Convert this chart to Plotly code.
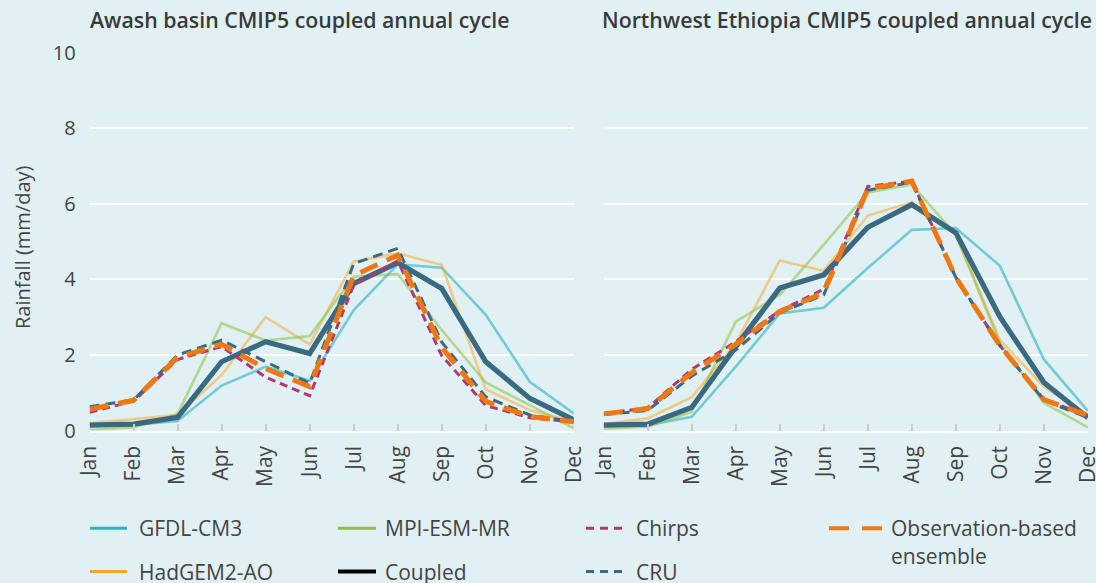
import plotly.graph_objects as go

months = ["Jan", "Feb", "Mar", "Apr", "May", "Jun", "Jul", "Aug", "Sep", "Oct", "Nov", "Dec"]

# Awash basin
awash_gfdl = [0.15, 0.15, 0.25, 1.19, 1.69, 1.32, 3.19, 4.40, 4.31, 3.06, 1.29, 0.45]
awash_hadgem = [0.20, 0.30, 0.41, 1.47, 3.00, 2.28, 4.47, 4.69, 4.38, 1.09, 0.54, 0.23]
awash_mpi = [0.02, 0.08, 0.44, 2.84, 2.38, 2.50, 4.07, 4.14, 2.66, 1.27, 0.67, 0.06]
awash_coupled = [0.14, 0.17, 0.35, 1.82, 2.35, 2.04, 3.89, 4.44, 3.76, 1.82, 0.85, 0.28]
awash_chirps = [0.48, 0.78, 1.88, 2.22, 1.41, 0.92, 3.85, 4.49, 1.98, 0.66, 0.34, 0.23]
awash_cru = [0.63, 0.81, 2.00, 2.39, 1.82, 1.25, 4.42, 4.82, 2.34, 0.89, 0.41, 0.23]
awash_obs = [0.56, 0.80, 1.94, 2.28, 1.64, 1.16, 4.10, 4.64, 2.20, 0.77, 0.37, 0.23]

# Northwest Ethiopia
nw_gfdl = [0.12, 0.14, 0.36, 1.69, 3.10, 3.25, 4.30, 5.31, 5.36, 4.36, 1.88, 0.52]
nw_hadgem = [0.17, 0.32, 0.88, 2.31, 4.50, 4.23, 5.69, 6.04, 5.18, 2.40, 1.16, 0.41]
nw_mpi = [0.05, 0.10, 0.49, 2.88, 3.59, 4.92, 6.30, 6.51, 5.18, 2.31, 0.73, 0.08]
nw_coupled = [0.14, 0.17, 0.61, 2.22, 3.77, 4.12, 5.38, 5.98, 5.23, 3.01, 1.27, 0.34]
nw_chirps = [0.45, 0.60, 1.62, 2.35, 3.17, 3.74, 6.46, 6.60, 4.05, 2.25, 0.82, 0.40]
nw_cru = [0.42, 0.53, 1.44, 2.13, 3.12, 3.59, 6.36, 6.57, 4.05, 2.25, 0.80, 0.34]
nw_obs = [0.44, 0.58, 1.53, 2.28, 3.15, 3.65, 6.40, 6.60, 4.05, 2.25, 0.82, 0.40]

titles = ["Awash basin CMIP5 coupled annual cycle", "Northwest Ethiopia CMIP5 coupled annual cycle"]
y_ticks = [0, 2, 4, 6, 8, 10]
y_title = "Rainfall (mm/day)"

W, H = 1096, 583
BG = "#e1f0f3"
TXT = "#444444"
FONT = "Open Sans"

styles = {
    "GFDL-CM3": dict(color="#2ab3c4", width=2.6, dash="solid", opacity=0.6),
    "HadGEM2-AO": dict(color="#f6a623", width=2.6, dash="solid", opacity=0.5),
    "MPI-ESM-MR": dict(color="#8dc03f", width=2.6, dash="solid", opacity=0.55),
    "Coupled": dict(color="#3a6a82", width=5.2, dash="solid", opacity=1),
    "Chirps": dict(color="#b3386f", width=3, dash="8px,5px", opacity=1),
    "CRU": dict(color="#3a6a85", width=3, dash="10px,6px", opacity=1),
    "Observation-based ensemble": dict(color="#f07814", width=5, dash="19px,10px", opacity=1),
}

panels = [
    dict(gfdl=awash_gfdl, hadgem=awash_hadgem, mpi=awash_mpi, coupled=awash_coupled,
         chirps=awash_chirps, cru=awash_cru, obs=awash_obs),
    dict(gfdl=nw_gfdl, hadgem=nw_hadgem, mpi=nw_mpi, coupled=nw_coupled,
         chirps=nw_chirps, cru=nw_cru, obs=nw_obs),
]
keys = [("gfdl", "GFDL-CM3"), ("hadgem", "HadGEM2-AO"), ("mpi", "MPI-ESM-MR"),
        ("coupled", "Coupled"), ("chirps", "Chirps"), ("cru", "CRU"),
        ("obs", "Observation-based ensemble")]

fig = go.Figure()
for i, p in enumerate(panels):
    xa = "x" if i == 0 else "x2"
    ya = "y" if i == 0 else "y2"
    for k, name in keys:
        s = styles[name]
        fig.add_trace(go.Scatter(
            x=months, y=p[k], mode="lines", name=name, xaxis=xa, yaxis=ya,
            line=dict(color=s["color"], width=s["width"], dash=s["dash"]),
            opacity=s["opacity"], showlegend=False, hoverinfo="x+y+name"))

# legend entries (legend-only dummies); dash patterns end in a long gap so the
# visible symbol is shorter than the item slot, leaving room before the text
legend_cols = {
    "legend": [("GFDL-CM3", "#2ab3c4", 3, "37px,300px"), ("HadGEM2-AO", "#f6a623", 3, "37px,300px")],
    "legend2": [("MPI-ESM-MR", "#8dc03f", 3, "38px,300px"), ("Coupled", "#000000", 4, "38px,300px")],
    "legend3": [("Chirps", "#b3386f", 3, "8px,6px,8px,6px,8px,300px"),
                ("CRU", "#3a6a85", 3, "8px,6px,8px,6px,8px,300px")],
    "legend4": [("Observation-based<br>ensemble", "#f07814", 4, "20px,13px,20px,300px")],
}
legend_geom = {  # (left px, item width px)
    "legend": (85, 44),
    "legend2": (333, 42),
    "legend3": (581, 45),
    "legend4": (824, 57),
}
for lg, items in legend_cols.items():
    for j, (name, col, w, d) in enumerate(items):
        fig.add_trace(go.Scatter(
            x=[None], y=[None], mode="lines", name=name, legend=lg,
            legendgroup=lg + str(j), line=dict(color=col, width=w, dash=d),
            showlegend=True, xaxis="x", yaxis="y"))

def px_x(v):
    return v / W

def px_y(v):
    return 1 - v / H

axis_common = dict(
    type="category", range=[0, 11], tickangle=-90, showgrid=False, zeroline=False,
    showline=True, linecolor="white", linewidth=2, ticks="inside", ticklen=7,
    tickcolor="#c9cdcf", tickwidth=2, tickfont=dict(family=FONT, size=21, color=TXT),
    ticklabelstandoff=5, fixedrange=True, automargin=False)
yaxis_common = dict(
    range=[0, 10], tickvals=y_ticks, showgrid=True, gridcolor="white", gridwidth=2,
    zeroline=False, showline=False, ticks="", tickfont=dict(family=FONT, size=20, color=TXT),
    fixedrange=True, automargin=False)

ydom = [px_y(430.5), px_y(52.7)]
legend_common = dict(orientation="v", bgcolor="rgba(0,0,0,0)", borderwidth=0,
                     font=dict(family=FONT, size=21, color=TXT), xanchor="left",
                     yanchor="top", tracegroupgap=13, itemclick=False, itemdoubleclick=False,
                     valign="top")
top = px_y(508)

legends = {}
for lg, (lx, iw) in legend_geom.items():
    legends[lg] = dict(x=px_x(lx), y=top, itemwidth=iw, **legend_common)

fig.update_layout(
    template="none",
    width=W, height=H, paper_bgcolor=BG, plot_bgcolor=BG,
    margin=dict(l=0, r=0, t=0, b=0, pad=0, autoexpand=False),
    font=dict(family=FONT, size=20, color=TXT),
    xaxis=dict(domain=[px_x(89.6), px_x(573.8)], anchor="y", **axis_common),
    xaxis2=dict(domain=[px_x(603.7), px_x(1087.9)], anchor="y2", **axis_common),
    yaxis=dict(domain=ydom, anchor="x", showticklabels=True, ticklabelstandoff=13, **yaxis_common),
    yaxis2=dict(domain=ydom, anchor="x2", showticklabels=False, **yaxis_common),
    annotations=[
        dict(text=titles[0], x=px_x(88), y=px_y(19), xref="paper", yref="paper",
             xanchor="left", yanchor="middle", showarrow=False,
             font=dict(family=FONT, size=21.3, color="#3a3a3a", weight=600)),
        dict(text=titles[1], x=px_x(599.5), y=px_y(19), xref="paper", yref="paper",
             xanchor="left", yanchor="middle", showarrow=False,
             font=dict(family=FONT, size=21.3, color="#3a3a3a", weight=600)),
        dict(text=y_title, x=px_x(23), y=px_y(247), xref="paper", yref="paper",
             xanchor="center", yanchor="middle", textangle=-90, showarrow=False,
             font=dict(family=FONT, size=20, color=TXT)),
    ],
    showlegend=True,
    **legends,
)

fig.write_html("out.html", config={"displayModeBar": False},
               post_script="document.body.style.margin='0px';document.body.style.overflow='hidden';")
